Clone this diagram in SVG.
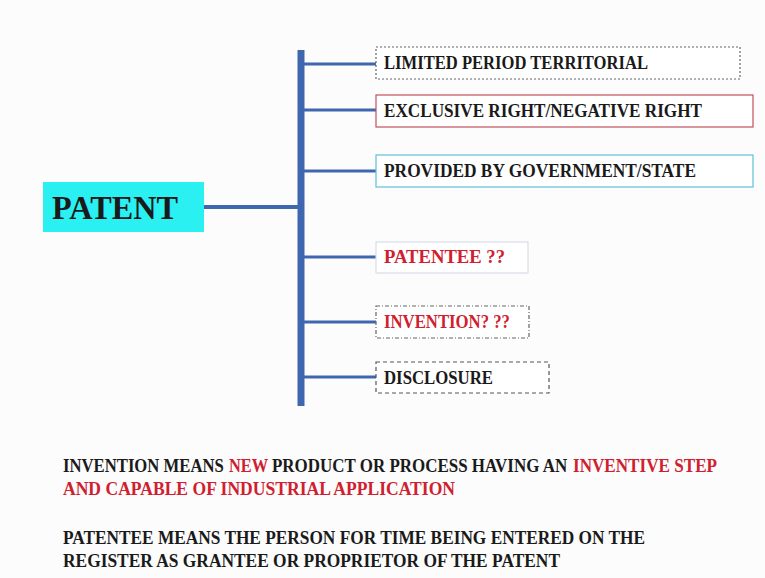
<svg xmlns="http://www.w3.org/2000/svg" width="765" height="578" viewBox="0 0 765 578">
<style>
.t{font-family:"Liberation Serif","DejaVu Serif",serif;font-weight:bold;font-size:18px;fill:#1a1a1a}
.big{font-size:33px}
.def{font-size:19px}
.r{fill:#d0202f}
.box{fill:#ffffff;stroke-width:1.2}
.conn{stroke:#3f67b0;fill:none}
</style>
<rect width="765" height="578" fill="#fcfcfc"/>
<g id="connectors">
<line class="conn" x1="301" y1="50" x2="301" y2="406" stroke-width="7"/>
<line class="conn" x1="204" y1="207" x2="301" y2="207" stroke-width="4"/>
<line class="conn" x1="301" y1="64" x2="376" y2="64" stroke-width="3"/>
<line class="conn" x1="301" y1="110" x2="376" y2="110" stroke-width="3"/>
<line class="conn" x1="301" y1="171" x2="376" y2="171" stroke-width="3"/>
<line class="conn" x1="301" y1="257" x2="376" y2="257" stroke-width="3"/>
<line class="conn" x1="301" y1="322" x2="376" y2="322" stroke-width="3"/>
<line class="conn" x1="301" y1="377" x2="376" y2="377" stroke-width="3"/>
</g>
<g id="patent">
<rect x="43" y="182" width="161" height="50" fill="#2af0f2"/>
<text class="t big" x="52" y="219" textLength="126" lengthAdjust="spacingAndGlyphs">PATENT</text>
</g>
<g id="limited">
<rect class="box" x="376" y="47" width="364" height="32" stroke="#666" stroke-dasharray="2,2"/>
<text class="t" x="384" y="69" textLength="264" lengthAdjust="spacingAndGlyphs">LIMITED PERIOD TERRITORIAL</text>
</g>
<g id="exclusive">
<rect class="box" x="376" y="95" width="377" height="32" stroke="#c0505a"/>
<text class="t" x="384" y="117" textLength="318" lengthAdjust="spacingAndGlyphs">EXCLUSIVE RIGHT/NEGATIVE RIGHT</text>
</g>
<g id="provided">
<rect class="box" x="376" y="155" width="377" height="32" stroke="#5cc0d8"/>
<text class="t" x="384" y="177" textLength="312" lengthAdjust="spacingAndGlyphs">PROVIDED BY GOVERNMENT/STATE</text>
</g>
<g id="patentee">
<rect class="box" x="376" y="242" width="152" height="31" stroke="#d8dde8"/>
<text class="t r" x="384" y="263" textLength="121" lengthAdjust="spacingAndGlyphs">PATENTEE  ??</text>
</g>
<g id="invention">
<rect class="box" x="376" y="306" width="153" height="32" stroke="#666" stroke-dasharray="4,2,1,2"/>
<text class="t r" x="384" y="328" textLength="126" lengthAdjust="spacingAndGlyphs">INVENTION? ??</text>
</g>
<g id="disclosure">
<rect class="box" x="376" y="362" width="173" height="31" stroke="#555" stroke-dasharray="4,3"/>
<text class="t" x="384" y="384" textLength="109" lengthAdjust="spacingAndGlyphs">DISCLOSURE</text>
</g>
<g id="definitions">
<text class="t def" transform="translate(63,472) scale(0.8,1)" textLength="201" lengthAdjust="spacingAndGlyphs">INVENTION MEANS</text>
<text class="t def r" transform="translate(229,472) scale(0.8,1)" textLength="49" lengthAdjust="spacingAndGlyphs">NEW</text>
<text class="t def" transform="translate(272,472) scale(0.8,1)" textLength="369" lengthAdjust="spacingAndGlyphs">PRODUCT OR PROCESS HAVING AN</text>
<text class="t def r" transform="translate(573,472) scale(0.8,1)" textLength="180" lengthAdjust="spacingAndGlyphs">INVENTIVE STEP</text>
<text class="t def r" x="63" y="495" textLength="392" lengthAdjust="spacingAndGlyphs">AND CAPABLE OF INDUSTRIAL APPLICATION</text>
<text class="t def" x="63" y="544" textLength="582" lengthAdjust="spacingAndGlyphs">PATENTEE MEANS  THE PERSON FOR TIME BEING ENTERED ON THE</text>
<text class="t def" x="63" y="567" textLength="497" lengthAdjust="spacingAndGlyphs">REGISTER AS GRANTEE OR PROPRIETOR OF THE PATENT</text>
</g>
</svg>
